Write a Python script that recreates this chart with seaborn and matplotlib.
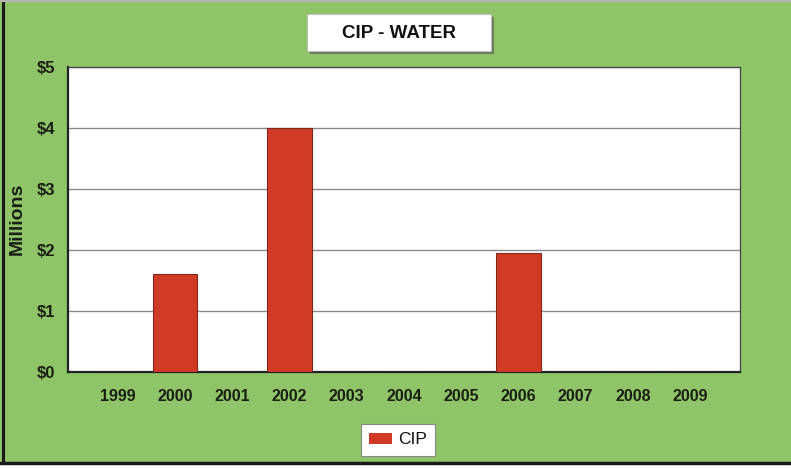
import matplotlib
matplotlib.use("Agg")
import matplotlib.pyplot as plt
from matplotlib.patches import Rectangle
from matplotlib.lines import Line2D
import pandas as pd
import seaborn as sns

# Capital improvement spending on water, by year (in $ millions)
years = ["1999", "2000", "2001", "2002", "2003", "2004", "2005", "2006", "2007", "2008", "2009"]
cip = [0, 1.6, 0, 4.0, 0, 0, 0, 1.95, 0, 0, 0]
y_ticks = [0, 1, 2, 3, 4, 5]
y_labels = ["$0", "$1", "$2", "$3", "$4", "$5"]

df = pd.DataFrame({"Year": years, "CIP": cip})

GREEN = "#8fc468"
RED = "#d13a26"
TEXT = "#1a1f14"
W, H = 791, 468

sns.set_theme(style="white")
plt.rcParams["font.family"] = ["Liberation Sans", "DejaVu Sans"]

fig = plt.figure(figsize=(7.91, 4.68), dpi=100, facecolor=GREEN)
ax = fig.add_axes([68 / W, 1 - 372 / H, (740 - 68) / W, (372 - 67) / H])
ax.set_facecolor("white")

sns.barplot(data=df, x="Year", y="CIP", color=RED, width=0.77,
            edgecolor="#7a2a1c", linewidth=0.8, saturation=1, ax=ax, zorder=3)

ax.set_ylim(0, 5)
ax.set_xlim(-0.87, 10.87)
ax.set_yticks(y_ticks)
ax.set_yticklabels(y_labels)
ax.yaxis.grid(True, color="#8a8a8a", linewidth=1.0, zorder=0)
ax.set_axisbelow(True)
ax.set_xlabel("")
ax.set_ylabel("")

ax.tick_params(axis="x", direction="in", length=4, width=1, color="#333333",
               labelsize=11.5, labelcolor=TEXT, pad=12)
ax.tick_params(axis="y", length=0, labelsize=12, labelcolor=TEXT, pad=9)
for lbl in ax.get_xticklabels() + ax.get_yticklabels():
    lbl.set_fontweight("bold")

for side in ["left", "bottom"]:
    ax.spines[side].set_color("#222222")
    ax.spines[side].set_linewidth(1.6)
for side in ["top", "right"]:
    ax.spines[side].set_color("#444444")
    ax.spines[side].set_linewidth(0.9)

# Y-axis title
fig.text(17 / W, 1 - 219 / H, "Millions", rotation=90, ha="center", va="center",
         fontsize=14, fontweight="bold", color=TEXT)

# Title box with drop shadow
fig.patches.append(Rectangle((310 / W, 1 - 54 / H), 184 / W, 37 / H,
                             transform=fig.transFigure, facecolor="#6b7d5c",
                             edgecolor="none", zorder=1))
fig.patches.append(Rectangle((307 / W, 1 - 51 / H), 184 / W, 37 / H,
                             transform=fig.transFigure, facecolor="white",
                             edgecolor="#bfbfbf", linewidth=0.8, zorder=2))
fig.text(399 / W, 1 - 33 / H, "CIP - WATER", ha="center", va="center",
         fontsize=13.5, fontweight="bold", color="#111111", zorder=3)

# Legend box
leg = fig.legend([Rectangle((0, 0), 1, 1, facecolor=RED, edgecolor="none")], ["CIP"],
                 loc="center", bbox_to_anchor=(398 / W, 1 - 440 / H),
                 frameon=True, fancybox=False, fontsize=12.5, handlelength=1.3,
                 handleheight=0.6, handletextpad=0.35, borderpad=0.5,
                 edgecolor="#888888", framealpha=1)
leg.get_frame().set_linewidth(0.8)
for t in leg.get_texts():
    t.set_color("#111111")

# Frame edges: dark left/bottom, light top, white strip below the bottom edge
fig.patches.append(Rectangle((0, 0), 1, 5 / H, transform=fig.transFigure,
                             facecolor="white", edgecolor="none", zorder=4))
fig.lines.append(Line2D([0, 1], [1 - 463 / H] * 2, transform=fig.transFigure,
                        color="#1a1a1a", linewidth=2.5, zorder=5))
fig.lines.append(Line2D([3 / W] * 2, [1 - 463 / H, 1], transform=fig.transFigure,
                        color="#1a1a1a", linewidth=2.2, zorder=5))
fig.lines.append(Line2D([0, 1], [1 - 1 / H] * 2, transform=fig.transFigure,
                        color="#b5b5b5", linewidth=1.5, zorder=5))

fig.savefig("out.png", dpi=100, facecolor=GREEN)
